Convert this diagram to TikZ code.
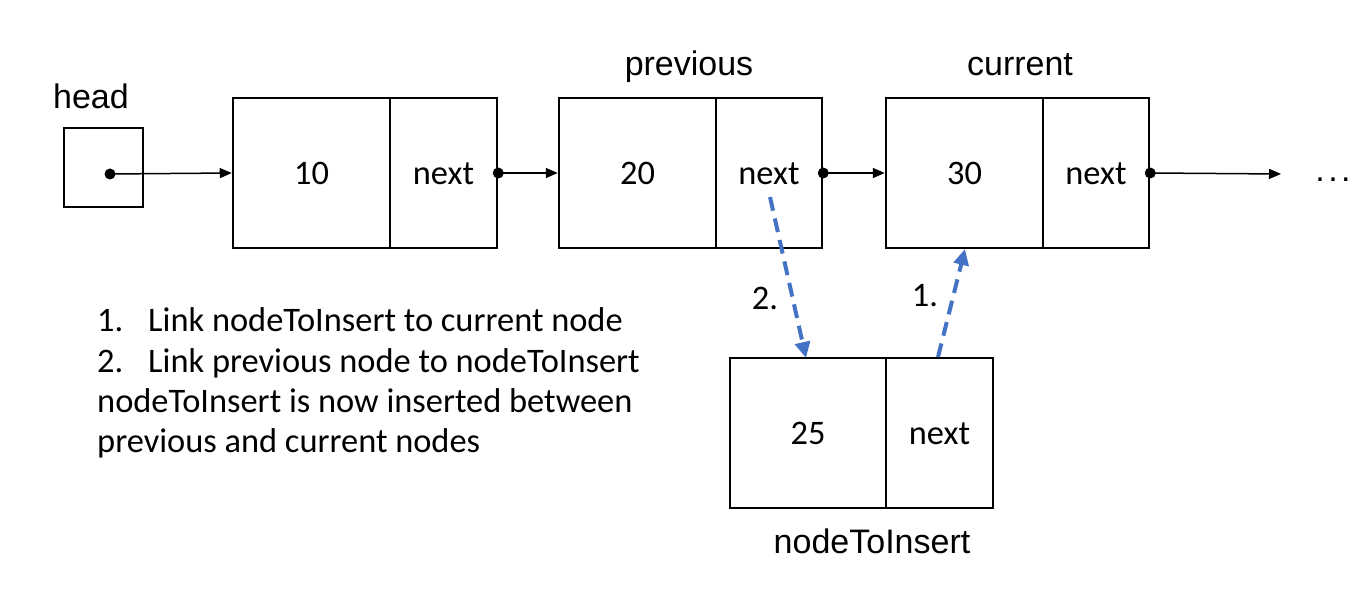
\documentclass[tikz,border=0pt]{standalone}
\usepackage{fontspec}
\setmainfont{Carlito}
\newfontfamily\arialf{Liberation Sans}
\usetikzlibrary{arrows.meta}
\definecolor{dashblue}{HTML}{4472C4}
\tikzset{
  cell/.style={draw=black, line width=2.5pt, inner sep=0pt, minimum height=150pt},
  txt/.style={anchor=base, inner sep=0pt, font=\fontsize{34.4}{40}\selectfont},
  lbl/.style={anchor=base, inner sep=0pt, font=\arialf\fontsize{34}{40}\selectfont},
  ptr/.style={line width=1.5pt, -{Triangle[length=12pt,width=10pt]}},
  dotc/.style={circle, fill=black, inner sep=0pt, minimum size=11pt},
  link/.style={draw=dashblue, line width=4pt, dash pattern=on 14pt off 8pt, -{Triangle[length=16pt,width=15pt]}, shorten >=0pt}
}
\begin{document}
\begin{tikzpicture}[x=1pt,y=-1pt]
\useasboundingbox (0,0) rectangle (1371,601);
% head
\node[draw=black, line width=1.2pt, minimum width=79pt, minimum height=79pt, inner sep=0pt] (headbox) at (103.5,167.5) {};
\node[lbl] (headlbl) at (91,109) {head};
\node[dotc] (hd) at (110,174) {};
% node 1
\node[cell, minimum width=157pt] (d1) at (311.5,173) {};
\node[cell, minimum width=107pt] (p1) at (443.5,173) {};
\node[txt] (t1) at (d1.center) [yshift=-12pt] {10};
\node[txt] (x1) at (p1.center) [yshift=-12pt] {next};
% node 2
\node[cell, minimum width=157pt] (d2) at (637.5,173) {};
\node[cell, minimum width=106pt] (p2) at (769,173) {};
\node[txt] (t2) at (d2.center) [yshift=-12pt] {20};
\node[txt] (x2) at (p2.center) [yshift=-12pt] {next};
\node[lbl] (prevlbl) at (689,76) {previous};
% node 3
\node[cell, minimum width=157pt] (d3) at (964.5,173) {};
\node[cell, minimum width=106pt] (p3) at (1096,173) {};
\node[txt] (t3) at (d3.center) [yshift=-12pt] {30};
\node[txt] (x3) at (p3.center) [yshift=-12pt] {next};
\node[lbl] (curlbl) at (1020,76) {current};
% node to insert
\node[cell, minimum width=156pt] (d4) at (808,433) {};
\node[cell, minimum width=107pt] (p4) at (939.5,433) {};
\node[txt] (t4) at (d4.center) [yshift=-11pt] {25};
\node[txt] (x4) at (p4.center) [yshift=-11pt] {next};
\node[lbl] (inslbl) at (872,553) {nodeToInsert};
% pointers
\node[dotc] (o1) at (p1.east) {};
\node[dotc] (o2) at (p2.east) {};
\node[dotc] (o3) at (p3.east) {};
\coordinate (endc) at (1281,174);
\node[lbl] (dots) at (1333,182) {.\kern3.5pt.\kern3.5pt.};
\draw[ptr] (hd.center) -- (d1.west);
\draw[ptr] (o1.center) -- (d2.west);
\draw[ptr] (o2.center) -- (d3.west);
\draw[ptr] (o3.center) -- (endc);
% dashed links
\coordinate (s2) at (770,197);
\coordinate (e2) at (806,358);
\coordinate (s1) at (938,357);
\coordinate (e1) at (965,249);
\draw[link] (s2) -- (e2);
\draw[link] (s1) -- (e1);
\node[txt] (l2) at (765,310) {2.};
\node[txt] (l1) at (925,307) {1.};
% list
\node[txt, anchor=base west] (n1no) at (97,332) {1.};
\node[txt, anchor=base west] (n1tx) at (148,332) {Link nodeToInsert to current node};
\node[txt, anchor=base west] (n2no) at (97,372.5) {2.};
\node[txt, anchor=base west] (n2tx) at (148,372.5) {Link previous node to nodeToInsert};
\node[txt, anchor=base west] (n3tx) at (97,413) {nodeToInsert is now inserted between};
\node[txt, anchor=base west] (n4tx) at (97,453) {previous and current nodes};
\end{tikzpicture}
\end{document}
